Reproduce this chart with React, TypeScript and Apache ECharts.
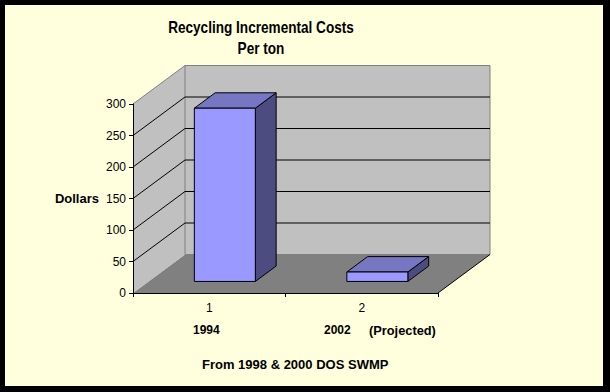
import React, { useEffect, useRef } from 'react';
import * as echarts from 'echarts';

const categories = ['1', '2'];
const costs = [275, 15];
const yMin = 0;
const yMax = 300;
const yStep = 50;
const yearLabels = ['1994', '2002'];
const projectedNote = '(Projected)';
const titleLines = ['Recycling Incremental Costs', 'Per ton'];
const yAxisTitle = 'Dollars';
const sourceNote = 'From 1998 & 2000 DOS SWMP';

const FONT = '"Liberation Sans", Arial, sans-serif';
const DX = 52;
const DY = -38.5;
const FRONT = 0.3;
const BACK = 0.7;
const BAR_FRAC = 0.4;

export default function App() {
  const ref = useRef<HTMLDivElement>(null);
  useEffect(() => {
    if (!ref.current) return;
    const chart = echarts.init(ref.current, null, { renderer: 'svg' });
    const ticks: number[] = [];
    for (let v = yMin; v <= yMax; v += yStep) ticks.push(v);

    const wallsRender = (params: any, api: any) => {
      const cs = params.coordSys;
      const x0 = cs.x;
      const x1 = cs.x + cs.width;
      const yb = api.coord([0, yMin])[1];
      const yt = api.coord([0, yMax])[1];
      const children: any[] = [];
      children.push({
        type: 'polygon',
        shape: { points: [[x0, yb], [x1, yb], [x1 + DX, yb + DY], [x0 + DX, yb + DY]] },
        style: { fill: '#808080', stroke: 'none' },
      });
      children.push({
        type: 'polygon',
        shape: { points: [[x0, yb], [x0, yt], [x0 + DX, yt + DY], [x0 + DX, yb + DY]] },
        style: { fill: '#C0C0C0', stroke: 'none' },
      });
      children.push({
        type: 'rect',
        shape: { x: x0 + DX, y: yt + DY, width: x1 - x0, height: yb - yt },
        style: { fill: '#C0C0C0', stroke: '#808080', lineWidth: 1 },
      });
      children.push({
        type: 'line',
        shape: { x1: x0, y1: yt, x2: x0 + DX, y2: yt + DY },
        style: { stroke: '#808080', lineWidth: 1 },
      });
      ticks.forEach((v) => {
        if (v === yMin || v === yMax) return;
        const y = api.coord([0, v])[1];
        children.push({
          type: 'polyline',
          shape: { points: [[x0, y], [x0 + DX, y + DY], [x1 + DX, y + DY]] },
          style: { stroke: '#000', lineWidth: 1, fill: 'none' },
        });
      });
      children.push({
        type: 'line',
        shape: { x1: x1, y1: yb, x2: x1 + DX, y2: yb + DY },
        style: { stroke: '#000', lineWidth: 1 },
      });
      return { type: 'group', children };
    };

    const barRender = (params: any, api: any) => {
      const i = api.value(0);
      const v = api.value(1);
      const base = api.coord([i, yMin]);
      const top = api.coord([i, v]);
      const bw = api.size([1, 0])[0] * BAR_FRAC;
      const L = base[0] - bw / 2;
      const R = base[0] + bw / 2;
      const B = base[1];
      const T = top[1];
      const fx = DX * FRONT, fy = DY * FRONT;
      const bx = DX * BACK, by = DY * BACK;
      const st = { stroke: '#000', lineWidth: 1 };
      return {
        type: 'group',
        children: [
          {
            type: 'polygon',
            shape: { points: [[R + fx, T + fy], [R + bx, T + by], [R + bx, B + by], [R + fx, B + fy]] },
            style: { ...st, fill: '#4C4C80' },
          },
          {
            type: 'polygon',
            shape: { points: [[L + fx, T + fy], [R + fx, T + fy], [R + bx, T + by], [L + bx, T + by]] },
            style: { ...st, fill: '#7676C2' },
          },
          {
            type: 'rect',
            shape: { x: L + fx, y: T + fy, width: R - L, height: B - T },
            style: { ...st, fill: '#9999FF' },
          },
        ],
      };
    };

    const textBase = { fill: '#000', textVerticalAlign: 'middle' };

    chart.setOption({
      animation: false,
      backgroundColor: '#000',
      grid: { left: 133, right: 172, top: 104, bottom: 99 },
      xAxis: {
        type: 'category',
        data: categories,
        axisLine: { lineStyle: { color: '#000', width: 1 } },
        axisTick: { show: true, length: 4, lineStyle: { color: '#000' } },
        axisLabel: { color: '#000', fontFamily: FONT, fontSize: 12, margin: 9 },
        splitLine: { show: false },
      },
      yAxis: {
        type: 'value',
        min: yMin,
        max: yMax,
        interval: yStep,
        name: yAxisTitle,
        nameLocation: 'middle',
        nameRotate: 0,
        nameGap: 34,
        nameTextStyle: { color: '#000', fontFamily: FONT, fontSize: 13, fontWeight: 'bold' },
        axisLine: { show: true, lineStyle: { color: '#000', width: 1 } },
        axisTick: { show: true, length: 4, lineStyle: { color: '#000' } },
        axisLabel: { color: '#000', fontFamily: FONT, fontSize: 12, margin: 7 },
        splitLine: { show: false },
      },
      graphic: [
        {
          type: 'rect',
          z: -10,
          shape: { x: 5, y: 5, width: 598, height: 381 },
          style: { fill: '#FFFFDD' },
          silent: true,
        },
        {
          type: 'text', x: 261, y: 27.5, scaleY: 1.15,
          style: { ...textBase, text: titleLines[0], font: `bold 13.6px ${FONT}`, textAlign: 'center' },
        },
        {
          type: 'text', x: 261, y: 48.5, scaleY: 1.15,
          style: { ...textBase, text: titleLines[1], font: `bold 13.6px ${FONT}`, textAlign: 'center' },
        },
        {
          type: 'text', x: 193, y: 330,
          style: { ...textBase, text: yearLabels[0], font: `bold 12px ${FONT}`, textAlign: 'left' },
        },
        {
          type: 'text', x: 324, y: 330,
          style: { ...textBase, text: yearLabels[1], font: `bold 12px ${FONT}`, textAlign: 'left' },
        },
        {
          type: 'text', x: 369, y: 330,
          style: { ...textBase, text: projectedNote, font: `bold 12.8px ${FONT}`, textAlign: 'left' },
        },
        {
          type: 'text', x: 202, y: 364,
          style: { ...textBase, text: sourceNote, font: `bold 13px ${FONT}`, textAlign: 'left' },
        },
      ],
      series: [
        {
          type: 'custom',
          name: 'walls',
          z: -1,
          silent: true,
          clip: false,
          data: [[0, 0]],
          renderItem: wallsRender,
        },
        {
          type: 'custom',
          name: 'Cost per ton',
          z: 5,
          silent: true,
          clip: false,
          data: costs.map((v, i) => [i, v]),
          renderItem: barRender,
        },
      ],
    });
    return () => chart.dispose();
  }, []);
  return (
    <div style={{ position: 'fixed', left: 0, top: 0, width: 610, height: 392 }}>
      <div ref={ref} style={{ width: 610, height: 392 }} />
    </div>
  );
}
